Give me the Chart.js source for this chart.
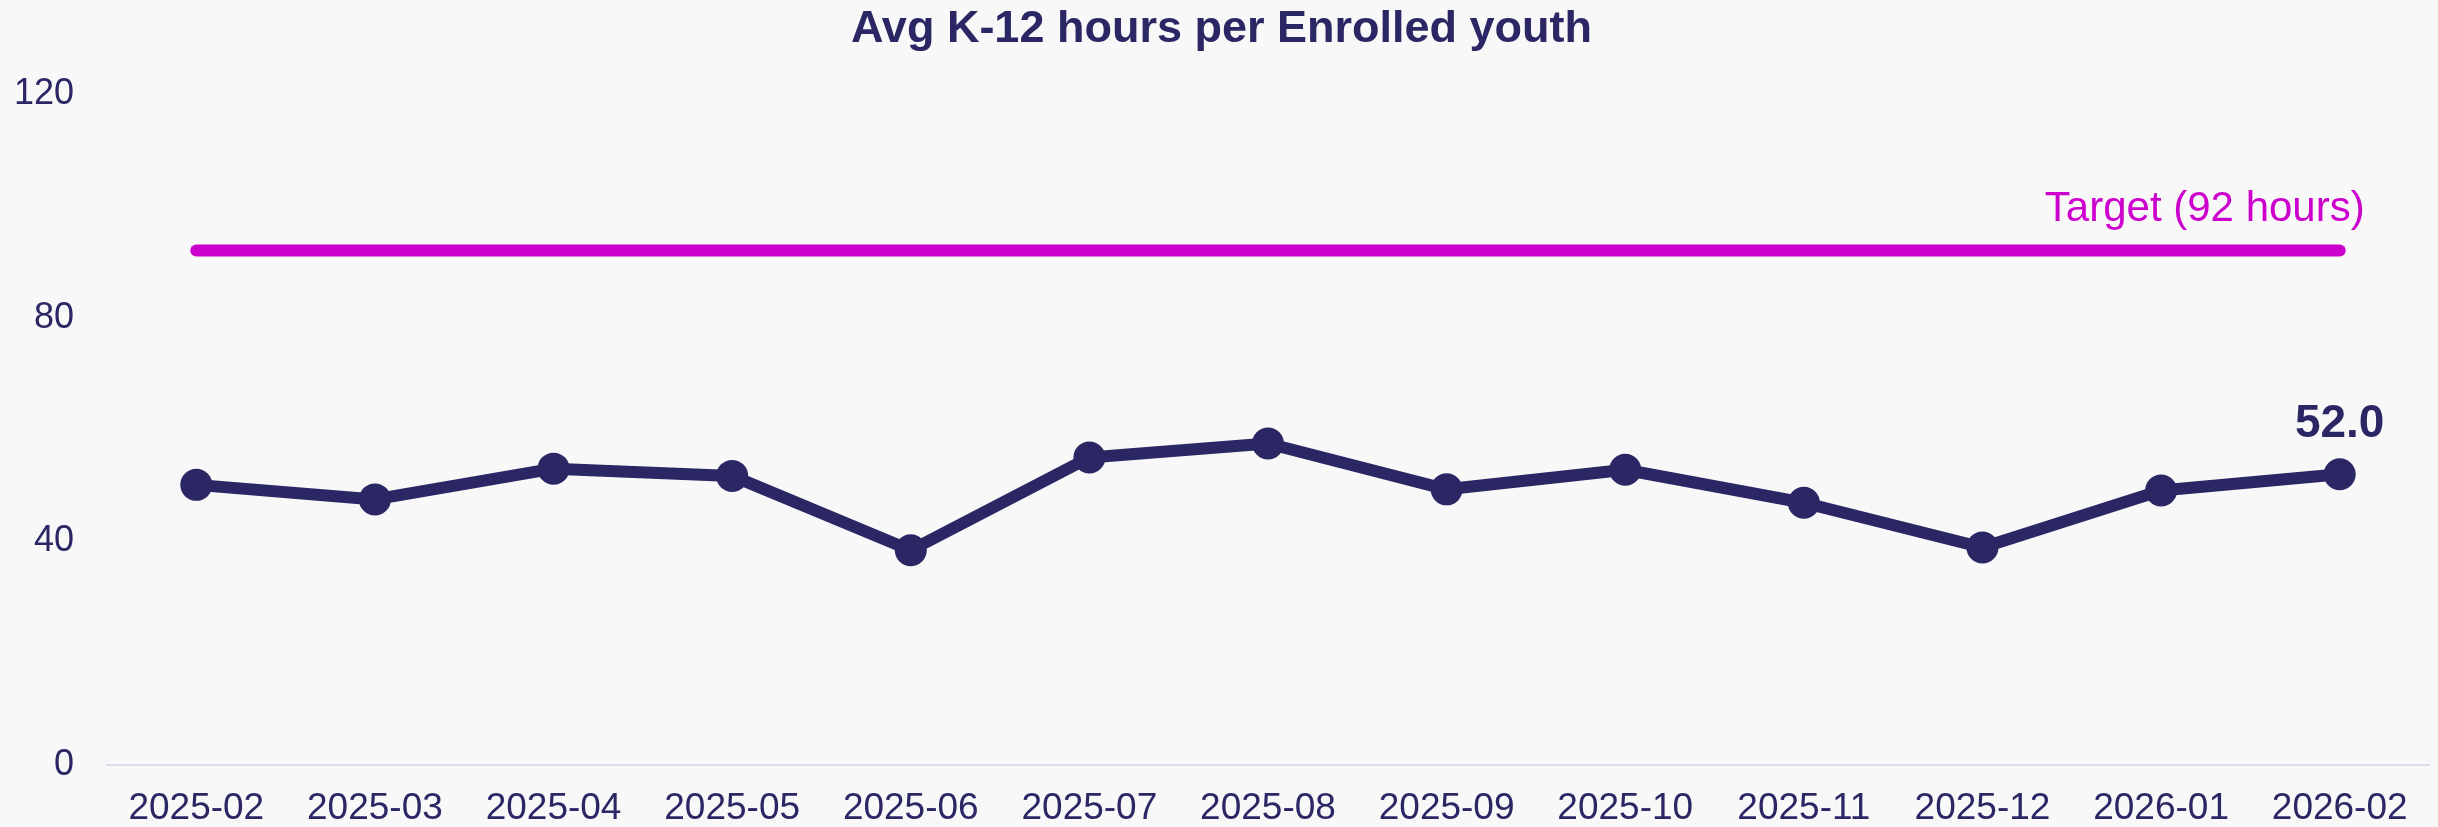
<!DOCTYPE html>
<html>
<head>
<meta charset="utf-8">
<title>Avg K-12 hours per Enrolled youth</title>
<script src="https://cdn.jsdelivr.net/npm/chart.js@4.4.1/dist/chart.umd.min.js"></script>
<style>
  html, body { margin: 0; padding: 0; background: #f8f8f8; overflow: hidden; }
  #wrap { position: relative; width: 2438px; height: 827px; }
</style>
</head>
<body>
<div id="wrap"><canvas id="hoursChart"></canvas></div>
<script>
// Monthly values
const months = ['2025-02', '2025-03', '2025-04', '2025-05', '2025-06', '2025-07', '2025-08',
                '2025-09', '2025-10', '2025-11', '2025-12', '2026-01', '2026-02'];
const avgHours = [50.1, 47.5, 53.0, 51.7, 38.4, 55.0, 57.5, 49.3, 52.8, 46.9, 38.9, 49.1, 52.0];
const targetHours = 92;
const yTicks = [0, 40, 80, 120];

const navy = '#2a2764';
const magenta = '#cc00cc';
const fontFamily = "'Liberation Sans', Arial, Helvetica, sans-serif";

// Fill the canvas background
const bgPlugin = {
  id: 'bg',
  beforeDraw(chart) {
    const ctx = chart.ctx;
    ctx.save();
    ctx.fillStyle = '#f8f8f8';
    ctx.fillRect(0, 0, chart.width, chart.height);
    ctx.restore();
  }
};

// Label on the last point and the target line caption
const labelsPlugin = {
  id: 'endLabels',
  afterDatasetsDraw(chart) {
    const ctx = chart.ctx;
    const x = chart.scales.x;
    const y = chart.scales.y;
    const last = avgHours.length - 1;
    ctx.save();

    const pt = chart.getDatasetMeta(0).data[last];
    ctx.font = 'bold 46px ' + fontFamily;
    ctx.fillStyle = navy;
    ctx.textAlign = 'center';
    ctx.textBaseline = 'alphabetic';
    ctx.fillText(avgHours[last].toFixed(1), pt.x, pt.y - 37);

    ctx.font = '42px ' + fontFamily;
    ctx.fillStyle = magenta;
    ctx.textAlign = 'right';
    ctx.fillText(chart.data.datasets[1].label, x.getPixelForValue(last) + 25, y.getPixelForValue(targetHours) - 30);

    ctx.restore();
  }
};

const config = {
  type: 'line',
  data: {
    labels: months,
    datasets: [
      {
        label: 'Avg K-12 hours',
        data: avgHours,
        borderColor: navy,
        backgroundColor: navy,
        borderWidth: 12,
        borderJoinStyle: 'round',
        tension: 0,
        pointRadius: 16,
        pointBorderWidth: 0,
        pointBackgroundColor: navy,
        fill: false
      },
      {
        label: 'Target (' + targetHours + ' hours)',
        data: months.map(() => targetHours),
        borderColor: magenta,
        borderWidth: 12,
        borderCapStyle: 'round',
        pointRadius: 0,
        fill: false
      }
    ]
  },
  options: {
    responsive: true,
    maintainAspectRatio: false,
    animation: false,
    layout: {
      autoPadding: false,
      padding: { left: 14, right: 9, top: 0, bottom: 0 }
    },
    plugins: {
      legend: { display: false },
      tooltip: { enabled: false },
      title: {
        display: true,
        text: 'Avg K-12 hours per Enrolled youth',
        color: navy,
        font: { family: fontFamily, size: 45, weight: 'bold', lineHeight: 1.2 },
        padding: { top: 3, bottom: 37 }
      }
    },
    scales: {
      x: {
        offset: true,
        grid: { display: false, drawTicks: false },
        border: { display: true, color: '#dcdcef', width: 2 },
        ticks: {
          color: navy,
          // tall line box puts the labels below the axis without tick padding
          font: { family: fontFamily, size: 37, lineHeight: 2.35 },
          padding: 0,
          maxRotation: 0,
          autoSkip: false
        },
        afterFit(scale) {
          scale.height = 62;
        }
      },
      y: {
        min: 0,
        max: 120,
        afterBuildTicks(scale) {
          scale.ticks = yTicks.map(v => ({ value: v }));
        },
        grid: { display: false, drawTicks: false },
        border: { display: false },
        ticks: {
          color: navy,
          font: { family: fontFamily, size: 36 },
          padding: 33
        },
        afterFit(scale) {
          scale.width = 93;
          scale.paddingTop = 0;
          scale.paddingBottom = 0;
        }
      }
    }
  },
  plugins: [bgPlugin, labelsPlugin]
};

const hoursChart = new Chart(document.getElementById('hoursChart'), config);
</script>
</body>
</html>
